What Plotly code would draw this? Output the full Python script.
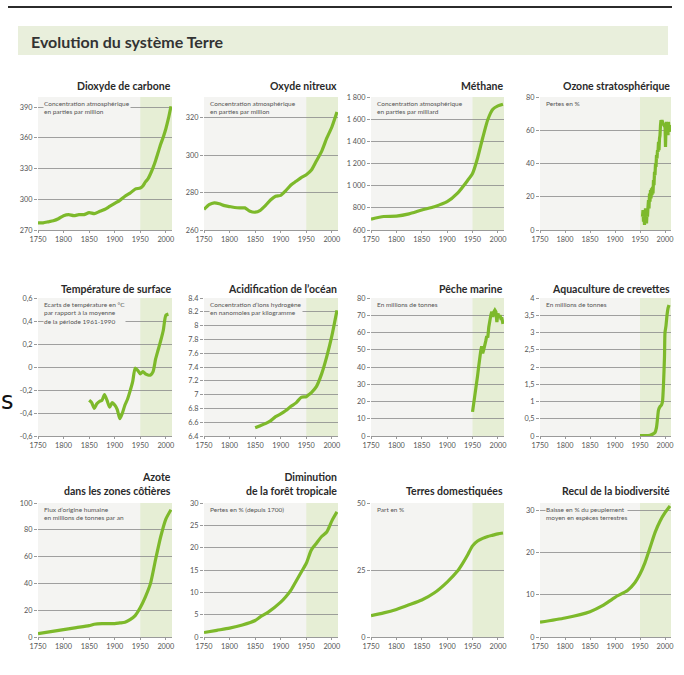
import plotly.graph_objects as go

W, H = 684, 675

# ---------------- data ----------------
co2_years = [1750,1760,1770,1780,1790,1800,1810,1820,1830,1840,1850,1860,1870,1880,1890,1900,1910,1920,1930,1940,1950,1955,1960,1965,1970,1975,1980,1985,1990,1995,2000,2005,2010]
co2_values = [277,277,278,279,281,284,285,284,285,285,287,286,288,290,293,296,299,303,306,310,311,313,317,320,325,331,338,346,354,361,369,379,391]

n2o_years = [1750,1760,1770,1780,1790,1800,1810,1820,1830,1840,1850,1860,1870,1880,1890,1900,1910,1920,1930,1940,1950,1960,1970,1980,1990,2000,2010]
n2o_values = [271,273.5,274.5,274,273,272.5,272,271.8,271.8,270,269.5,270.5,273,276,278,278.5,281,284,286,288,289.5,292,297,302,309,315,323]

ch4_years = [1750,1775,1800,1825,1850,1875,1900,1920,1940,1950,1960,1970,1980,1990,2000,2010]
ch4_values = [698,722,725,745,780,810,855,930,1045,1110,1250,1430,1595,1690,1720,1735]

ozone_years = list(range(1955, 2012))
ozone_values = [8,12,5,9,3,8,13,6,4,10,8,14,18,13,22,17,24,19,25,21,26,22,30,27,35,33,40,38,45,43,48,47,53,48,55,57,63,66,65,66,64,65,63,64,62,64,50,62,65,60,64,57,65,61,63,60,59]

temp_years = [1850,1855,1860,1865,1870,1875,1880,1885,1890,1895,1900,1905,1910,1915,1920,1925,1930,1935,1940,1945,1950,1955,1960,1965,1970,1975,1980,1985,1990,1995,2000,2005]
temp_values = [-0.29,-0.31,-0.36,-0.32,-0.30,-0.29,-0.24,-0.29,-0.35,-0.31,-0.33,-0.37,-0.45,-0.40,-0.33,-0.28,-0.21,-0.13,-0.01,-0.03,-0.06,-0.04,-0.06,-0.07,-0.07,-0.04,0.07,0.15,0.23,0.32,0.45,0.46]

acid_years = [1850,1860,1870,1880,1890,1900,1910,1920,1930,1940,1950,1955,1960,1970,1980,1990,2000,2010]
acid_values = [6.52,6.55,6.58,6.62,6.68,6.72,6.77,6.83,6.88,6.96,6.97,7.0,7.03,7.12,7.3,7.55,7.85,8.22]

fish_years = [1950,1952,1955,1958,1960,1962,1964,1966,1968,1970,1972,1974,1976,1978,1980,1982,1984,1986,1988,1990,1992,1994,1996,1998,2000,2002,2004,2006,2008,2010]
fish_values = [14,18,22,30,35,40,47,49,52,48,50,52,55,58,57,63,68,70,72,69,72,73,72,66,71,69,70,68,68,65]

shrimp_years = [1950,1960,1970,1975,1980,1983,1985,1987,1990,1993,1995,1997,1999,2000,2002,2004,2006,2008]
shrimp_values = [0.01,0.01,0.02,0.05,0.1,0.25,0.5,0.75,0.85,0.9,1.0,1.5,2.3,3.0,3.2,3.5,3.7,3.8]

nitro_years = [1750,1775,1800,1825,1850,1860,1875,1900,1910,1920,1930,1940,1950,1960,1970,1980,1990,2000,2010]
nitro_values = [2.5,4,5.5,7,8.5,9.5,10,10,10.5,11,13,16,22,30,40,58,75,88,95]

forest_years = [1750,1775,1800,1825,1850,1860,1875,1900,1910,1920,1930,1940,1950,1960,1970,1980,1990,2000,2010]
forest_values = [1,1.5,2,2.7,3.7,4.5,5.5,7.8,9,10.5,12.5,14.5,16.5,19.5,21,22.5,23.5,26,28]

land_years = [1750,1775,1800,1825,1850,1875,1900,1920,1930,1940,1950,1960,1970,1980,1990,2000,2010]
land_values = [8,9,10.3,12,13.8,16.5,20.5,24.5,27.3,30.5,34,35.8,36.8,37.5,38,38.5,38.8]

biod_years = [1750,1800,1850,1875,1900,1925,1940,1950,1960,1970,1980,1990,2000,2010]
biod_values = [3.5,4.5,6,7.4,9.4,11,12.9,14.9,17.6,21.1,24.7,27.4,29.4,31]

x_ticks = [1750, 1800, 1850, 1900, 1950, 2000]

co2_ticks = [270, 300, 330, 360, 390]
co2_ticktext = ["270", "300", "330", "360", "390"]
n2o_ticks = [260, 280, 300, 320]
n2o_ticktext = ["260", "280", "300", "320"]
ch4_ticks = [600, 800, 1000, 1200, 1400, 1600, 1800]
ch4_ticktext = ["600", "800", "1 000", "1 200", "1 400", "1 600", "1 800"]
ozone_ticks = [0, 20, 40, 60, 80]
ozone_ticktext = ["0", "20", "40", "60", "80"]
temp_ticks = [-0.6, -0.4, -0.2, 0, 0.2, 0.4, 0.6]
temp_ticktext = ["-0,6", "-0,4", "-0,2", "0", "0,2", "0,4", "0,6"]
acid_ticks = [6.4, 6.6, 6.8, 7.0, 7.2, 7.4, 7.6, 7.8, 8.0, 8.2, 8.4]
acid_ticktext = ["6.4", "6.6", "6.8", "7", "7.2", "7.4", "7.6", "7.8", "8", "8.2", "8.4"]
fish_ticks = [0, 10, 20, 30, 40, 50, 60, 70, 80]
fish_ticktext = ["0", "10", "20", "30", "40", "50", "60", "70", "80"]
shrimp_ticks = [0, 0.5, 1, 1.5, 2, 2.5, 3, 3.5, 4]
shrimp_ticktext = ["0", "0,5", "1", "1,5", "2", "2,5", "3", "3,5", "4"]
nitro_ticks = [0, 20, 40, 60, 80, 100]
nitro_ticktext = ["0", "20", "40", "60", "80", "100"]
forest_ticks = [0, 5, 10, 15, 20, 25, 30]
forest_ticktext = ["0", "5", "10", "15", "20", "25", "30"]
land_ticks = [0, 25, 50]
land_ticktext = ["0", "25", "50"]
biod_ticks = [0, 10, 20, 30]
biod_ticktext = ["0", "10", "20", "30"]

panels = [
    dict(title="Dioxyde de carbone", note="Concentration atmosphérique<br>en parties par million",
         x=co2_years, y=co2_values, yr=[270, 400], tv=co2_ticks, tt=co2_ticktext, shape="spline"),
    dict(title="Oxyde nitreux", note="Concentration atmosphérique<br>en parties par million",
         x=n2o_years, y=n2o_values, yr=[260, 331], tv=n2o_ticks, tt=n2o_ticktext, shape="spline"),
    dict(title="Méthane", note="Concentration atmosphérique<br>en parties par milliard",
         x=ch4_years, y=ch4_values, yr=[600, 1800], tv=ch4_ticks, tt=ch4_ticktext, shape="spline"),
    dict(title="Ozone stratosphérique", note="Pertes en %",
         x=ozone_years, y=ozone_values, yr=[0, 80], tv=ozone_ticks, tt=ozone_ticktext, shape="linear"),
    dict(title="Température de surface", note="Ecarts de température en °C<br>par rapport à la moyenne<br>de la période 1961-1990",
         x=temp_years, y=temp_values, yr=[-0.6, 0.6], tv=temp_ticks, tt=temp_ticktext, shape="spline"),
    dict(title="Acidification de l’océan", note="Concentration d’ions hydrogène<br>en nanomoles par kilogramme",
         x=acid_years, y=acid_values, yr=[6.4, 8.4], tv=acid_ticks, tt=acid_ticktext, shape="spline"),
    dict(title="Pêche marine", note="En millions de tonnes",
         x=fish_years, y=fish_values, yr=[0, 80], tv=fish_ticks, tt=fish_ticktext, shape="linear"),
    dict(title="Aquaculture de crevettes", note="En millions de tonnes",
         x=shrimp_years, y=shrimp_values, yr=[0, 4], tv=shrimp_ticks, tt=shrimp_ticktext, shape="spline"),
    dict(title="Azote<br>dans les zones côtières", note="Flux d’origine humaine<br>en millions de tonnes par an",
         x=nitro_years, y=nitro_values, yr=[0, 100], tv=nitro_ticks, tt=nitro_ticktext, shape="spline"),
    dict(title="Diminution<br>de la forêt tropicale", note="Pertes en % (depuis 1700)",
         x=forest_years, y=forest_values, yr=[0, 30], tv=forest_ticks, tt=forest_ticktext, shape="spline"),
    dict(title="Terres domestiquées", note="Part en %",
         x=land_years, y=land_values, yr=[0, 50], tv=land_ticks, tt=land_ticktext, shape="spline"),
    dict(title="Recul de la biodiversité", note="Baisse en % du peuplement<br>moyen en espèces terrestres",
         x=biod_years, y=biod_values, yr=[0, 31.7], tv=biod_ticks, tt=biod_ticktext, shape="spline"),
]

# ---------------- layout (pixel geometry) ----------------
cols_px = [(38, 172), (204, 338), (371, 504), (540, 671)]
rows_px = [(97, 230), (298, 436), (503, 637)]
title_y_px = [86, 289, 493]

X_RANGE = [1750, 2012]
LINE_COLOR = "#7db92b"
BG_GRAY = "#f4f4f2"
BG_GREEN = "#e6eed5"
GRID = "#8a8a8a"
TICKFONT = dict(family="Lato", size=7.3, color="#555555")

def px_x(v):
    return v / W

def px_y(v):
    return 1 - v / H

fig = go.Figure()
layout = dict(
    template="none",
    width=W, height=H, margin=dict(l=0, r=0, t=0, b=0, pad=0, autoexpand=False),
    paper_bgcolor="white", plot_bgcolor=BG_GRAY, showlegend=False,
    shapes=[], annotations=[],
)

# header rule and banner
layout["shapes"].append(dict(type="line", xref="paper", yref="paper",
                             x0=px_x(8), x1=px_x(672), y0=px_y(7), y1=px_y(7),
                             line=dict(color="#2b2b2b", width=2)))
layout["shapes"].append(dict(type="rect", xref="paper", yref="paper",
                             x0=px_x(18), x1=px_x(668), y0=px_y(55), y1=px_y(26),
                             fillcolor="#e9efdc", line=dict(width=0), layer="below"))
layout["annotations"].append(dict(text="<b>Evolution du système Terre</b>", xref="paper", yref="paper",
                                  x=px_x(29), y=px_y(41), xanchor="left", yanchor="middle",
                                  showarrow=False, font=dict(family="Lato", size=16, color="#333333")))
layout["annotations"].append(dict(text="s", xref="paper", yref="paper",
                                  x=px_x(-1), y=px_y(401), xanchor="left", yanchor="middle",
                                  showarrow=False, font=dict(family="DejaVu Sans", size=24, color="#111111")))

for i, p in enumerate(panels):
    r, c = divmod(i, 4)
    n = i + 1
    xs = "" if n == 1 else str(n)
    x0, x1 = cols_px[c]
    y0, y1 = rows_px[r]

    fig.add_trace(go.Scatter(x=p["x"], y=p["y"], mode="lines",
                             line=dict(color=LINE_COLOR, width=3.2, shape=p["shape"], smoothing=0.6),
                             xaxis="x" + xs, yaxis="y" + xs, hoverinfo="skip"))

    layout["xaxis" + xs] = dict(domain=[px_x(x0), px_x(x1)], range=X_RANGE, anchor="y" + xs,
                                tickvals=x_ticks, ticktext=[str(t) for t in x_ticks],
                                showgrid=False, zeroline=False, showline=True, linecolor="#9a9a9a",
                                linewidth=1, ticks="outside", ticklen=2, tickcolor="#9a9a9a",
                                tickfont=TICKFONT, fixedrange=True, automargin=False)
    layout["yaxis" + xs] = dict(domain=[px_y(y1), px_y(y0)], range=p["yr"], anchor="x" + xs,
                                tickvals=p["tv"], ticktext=p["tt"],
                                showgrid=True, gridcolor=GRID, gridwidth=0.8, zeroline=False,
                                showline=False, ticks="outside", ticklen=3, tickcolor="#9a9a9a",
                                tickfont=TICKFONT, fixedrange=True, automargin=False)

    layout["shapes"].append(dict(type="rect", xref="x" + xs, yref="y" + xs + " domain",
                                 x0=1950, x1=X_RANGE[1], y0=0, y1=1,
                                 fillcolor=BG_GREEN, line=dict(width=0), layer="below"))

    ann = dict(text="<b>" + p["title"] + "</b>", xref="paper", yref="paper",
               x=px_x(x1 + 1), y=px_y(title_y_px[r]), xanchor="right", yanchor="middle",
               align="right", showarrow=False,
               font=dict(family="Lato", size=10.5, color="#2a2a2a"))
    if r == 2:
        ann["yanchor"] = "bottom"
        ann["y"] = px_y(title_y_px[r] + 6)
    layout["annotations"].append(ann)

    layout["annotations"].append(dict(text=p["note"], xref="paper", yref="paper",
                                      x=px_x(x0 + 5), y=px_y(y0 + 2), xanchor="left", yanchor="top",
                                      align="left", showarrow=False, bgcolor=BG_GRAY, borderpad=0,
                                      font=dict(family="Lato", size=6.5, color="#555555")))

fig.update_layout(**layout)
fig.write_html("out.html", config={"displayModeBar": False, "staticPlot": True},
               post_script="document.body.style.margin='0';document.body.style.padding='0';")
